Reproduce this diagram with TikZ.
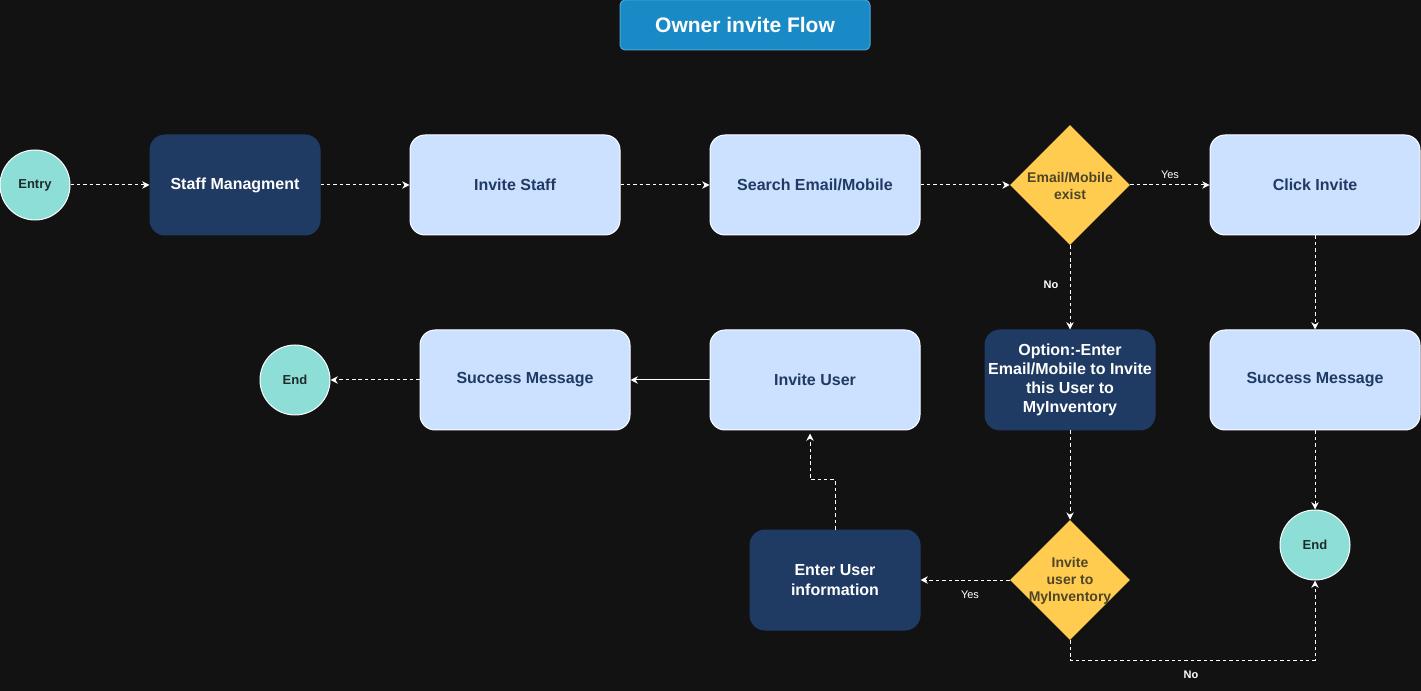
\documentclass[tikz,border=0pt]{standalone}
\usepackage{fontspec}
\setmainfont{Liberation Sans}
\usetikzlibrary{shapes.geometric,arrows.meta}
\definecolor{bg}{HTML}{121212}
\definecolor{navy}{HTML}{1F3A63}
\definecolor{pale}{HTML}{CCE0FF}
\definecolor{mint}{HTML}{8EDED8}
\definecolor{amber}{HTML}{FFCC4F}
\definecolor{amberink}{HTML}{4F4528}
\definecolor{titleblue}{HTML}{1A8AC6}
\definecolor{titleedge}{HTML}{4BA6DA}
\definecolor{mintink}{HTML}{1E2B2B}

\begin{document}
\begin{tikzpicture}[x=0.75pt,y=-0.75pt,
  every node/.style={align=center},
  lightbox/.style={draw=white, line width=0.75pt, fill=pale, text=navy,
    rounded corners=11.25pt, minimum width=157.5pt, minimum height=75pt,
    font=\fontsize{12}{14.4}\selectfont\bfseries},
  darkbox/.style={draw=navy, line width=0.75pt, fill=navy, text=white,
    rounded corners=11.25pt, minimum width=127.5pt, minimum height=75pt,
    inner xsep=1pt, font=\fontsize{12}{14.4}\selectfont\bfseries},
  terminal/.style={circle, draw=white, line width=0.75pt, fill=mint, text=mintink,
    minimum size=52.5pt, inner sep=0pt, font=\fontsize{9.75}{11.7}\selectfont\bfseries},
  decision/.style={diamond, aspect=1, fill=amber, minimum width=90pt,
    minimum height=90pt, inner sep=0pt},
  dtext/.style={text=amberink, font=\fontsize{10.5}{12.6}\selectfont\bfseries},
  tip/.style={-{Stealth[length=5.5pt,width=5.5pt,inset=1.8pt]}},
  flow/.style={draw=white, line width=0.75pt, dash pattern=on 2.6pt off 2.2pt, tip},
  solidflow/.style={draw=white, line width=0.75pt, tip},
  yestag/.style={text=white, font=\fontsize{8.25}{10}\selectfont},
  notag/.style={text=white, font=\fontsize{8.25}{10}\selectfont\bfseries}
]
% canvas
\fill[bg] (0,0) rectangle (1421,691);
\useasboundingbox (0,0) rectangle (1421,691);

% heading
\node[draw=titleedge, line width=0.75pt, fill=titleblue, text=white, rounded corners=3.75pt,
  minimum width=187.5pt, minimum height=37.5pt, font=\fontsize{15.75}{18}\selectfont\bfseries]
  (title) at (745,25) {Owner invite Flow};

% top row
\node[terminal] (entry) at (35,185) {Entry};
\node[darkbox] (staff) at (235,185) {Staff Managment};
\node[lightbox] (invstaff) at (515,185) {Invite Staff};
\node[lightbox] (search) at (815,185) {Search Email/Mobile};
\node[decision] (exist) at (1070,185) {};
\node[dtext] (existtxt) at (1070,186) {Email/Mobile\\exist};
\node[lightbox] (click) at (1315,185) {Click Invite};

% middle row
\node[terminal] (endl) at (295,380) {End};
\node[lightbox] (succl) at (525,380) {Success Message};
\node[lightbox] (invuser) at (815,380) {Invite User};
\node[darkbox] (option) at (1070,380)
  {Option:-Enter\\Email/Mobile to Invite\\this User to\\MyInventory};
\node[lightbox] (succr) at (1315,380) {Success Message};

% bottom row
\node[darkbox] (enter) at (835,580) {Enter User\\information};
\node[decision] (askinv) at (1070,580) {};
\node[dtext] (askinvtxt) at (1070,581) {Invite\\user to\\MyInventory};
\node[terminal] (endr) at (1315,545) {End};

% connectors
\draw[flow] (entry) -- (staff);
\draw[flow] (staff) -- (invstaff);
\draw[flow] (invstaff) -- (search);
\draw[flow] (search) -- (exist);
\draw[flow] (exist) -- (click);
\draw[flow] (exist) -- (option);
\draw[flow] (click) -- (succr);
\draw[flow] (succr) -- (endr);
\draw[flow] (option) -- (askinv);
\draw[flow] (askinv) -- (enter);
\draw[flow] (askinv.south) -- ++(0,20) -| (endr.south);
\draw[flow] (enter.north) -- ++(0,-50) -| ([xshift=-3.75pt,yshift=-2.25pt]invuser.south);
\draw[solidflow] (invuser) -- (succl);
\draw[flow] (succl) -- (endl);

% branch labels
\node[yestag] (yes1) at (1170,175) {Yes};
\node[notag] (no1) at (1051,285) {No};
\node[yestag] (yes2) at (970,595) {Yes};
\node[notag] (no2) at (1191,675) {No};
\end{tikzpicture}
\end{document}
